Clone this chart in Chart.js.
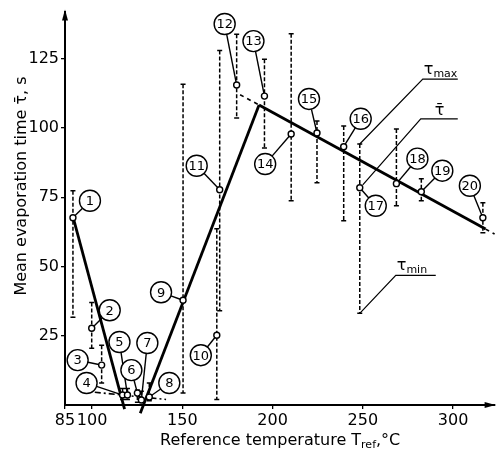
<!DOCTYPE html>
<html>
<head>
<meta charset="utf-8">
<script src="https://cdn.jsdelivr.net/npm/chart.js@4.4.1/dist/chart.umd.min.js"></script>
<style>
  html, body { margin: 0; padding: 0; background: #fff; }
  #evapChart { display: block; }
</style>
</head>
<body>
<canvas id="evapChart" width="500" height="451"></canvas>
<script>
// run numbers, reference temperature and evaporation times
const runLabels = ['1','2','3','4','5','6','7','8','9','10','11','12','13','14','15','16','17','18','19','20'];
const refTemps = [89.4, 99.8, 105.3, 116.9, 119.6, 125.1, 127.3, 131.7, 150.4, 169.1, 170.7, 180.1, 195.5, 210.3, 224.6, 239.4, 248.3, 268.6, 282.4, 316.5];
const meanTau  = [67.6, 27.7, 14.4, 3.6, 3.6, 4.3, 1.8, 2.9, 37.8, 25.2, 77.7, 115.5, 111.5, 97.8, 98.2, 93.2, 78.4, 79.9, 77.0, 67.6];
const maxTau   = [77.3, 37.0, 21.6, 6.0, 6.0, 5.4, 5.0, 7.9, 115.8, 63.6, 128.0, 133.8, 124.8, 134.0, 102.5, 100.7, 94.2, 99.6, 81.7, 73.0];
const minTau   = [31.7, 20.5, 7.9, 2.0, 2.0, 1.0, 1.0, 1.5, 4.3, 2.0, 34.0, 103.6, 92.8, 73.7, 80.2, 66.5, 33.1, 71.9, 73.7, 62.2];

// straight lines drawn through the points: [T, tau] end points
const fitFalling = [[89.4, 68], [118, -1.5]];
const fitRising  = [[126.7, -3], [192.5, 108.3]];
const fitHigh    = [[192.5, 108.3], [318, 63.5]];
const fitHighLeft  = [[182, 112], [192.5, 108.3]];
const fitHighRight = [[318, 63.5], [323, 61.7]];
const fitLow     = [[101.5, 4.6], [141, 2]];

const xTicks = [85, 100, 150, 200, 250, 300];
const yTicks = [25, 50, 75, 100, 125];

// where each numbered circle sits relative to its point (px)
const labelOffsets = [[17,-17],[18,-18],[-24,-5],[-36,-12],[-8,-53],[-6,-23],[6,-57],[20,-14],[-22,-8],[-16,20],
                      [-23,-24],[-12,-61],[-11,-55],[-26,30],[-8,-34],[17,-28],[16,18],[21,-25],[21,-21],[-13,-32]];
const keyRun = 16; // run 17 carries the tau_max / tau / tau_min key

const FONT = '"DejaVu Sans", sans-serif';

function toPoints(pairs) {
    return pairs.map(p => ({ x: p[0], y: p[1] }));
}

function fitLine(pairs, width, dash) {
    return {
        data: toPoints(pairs),
        showLine: true,
        borderColor: '#000',
        borderWidth: width,
        borderDash: dash || [],
        pointRadius: 0,
        clip: false
    };
}

// dashed error bars, drawn under the points
const errorBarPlugin = {
    id: 'errorBars',
    beforeDatasetsDraw(chart) {
        const ctx = chart.ctx;
        const xs = chart.scales.x, ys = chart.scales.y;
        ctx.save();
        ctx.strokeStyle = '#000';
        ctx.lineWidth = 1.5;
        for (let i = 0; i < refTemps.length; i++) {
            const px = xs.getPixelForValue(refTemps[i]);
            const top = ys.getPixelForValue(maxTau[i]);
            const bot = ys.getPixelForValue(minTau[i]);
            ctx.setLineDash([4, 2]);
            ctx.beginPath();
            ctx.moveTo(px, top);
            ctx.lineTo(px, bot);
            ctx.stroke();
            ctx.setLineDash([]);
            ctx.beginPath();
            ctx.moveTo(px - 2.5, top); ctx.lineTo(px + 2.5, top);
            ctx.moveTo(px - 2.5, bot); ctx.lineTo(px + 2.5, bot);
            ctx.stroke();
        }
        ctx.restore();
    }
};

function drawTau(ctx, x, y, sub, bar) {
    ctx.font = '16px ' + FONT;
    ctx.textAlign = 'left';
    ctx.textBaseline = 'alphabetic';
    ctx.fillText(bar ? 'τ\u0304' : 'τ', x, y);
    if (sub) {
        const w = ctx.measureText('τ').width;
        ctx.font = '11px ' + FONT;
        ctx.fillText(sub, x + w, y + 3);
    }
}

// numbered circles, the key for run 17, axis titles and arrows
const annotatePlugin = {
    id: 'annotate',
    afterDatasetsDraw(chart) {
        const ctx = chart.ctx;
        const xs = chart.scales.x, ys = chart.scales.y;
        ctx.save();
        ctx.strokeStyle = '#000';
        ctx.fillStyle = '#000';
        ctx.lineWidth = 1.4;

        const r = 10.5;
        for (let i = 0; i < refTemps.length; i++) {
            const px = xs.getPixelForValue(refTemps[i]);
            const py = ys.getPixelForValue(meanTau[i]);
            const cx = px + labelOffsets[i][0];
            const cy = py + labelOffsets[i][1];
            const dx = px - cx, dy = py - cy;
            const len = Math.sqrt(dx * dx + dy * dy);
            const ux = dx / len, uy = dy / len;
            ctx.beginPath();
            ctx.moveTo(cx + ux * r, cy + uy * r);
            ctx.lineTo(px - ux * 3, py - uy * 3);
            ctx.stroke();
            ctx.beginPath();
            ctx.arc(cx, cy, r, 0, Math.PI * 2);
            ctx.fillStyle = '#fff';
            ctx.fill();
            ctx.stroke();
            ctx.fillStyle = '#000';
            ctx.font = '13px ' + FONT;
            ctx.textAlign = 'center';
            ctx.textBaseline = 'middle';
            ctx.fillText(runLabels[i], cx, cy + 1);
        }

        // key on run 17
        const kx = xs.getPixelForValue(refTemps[keyRun]);
        const kTop = ys.getPixelForValue(maxTau[keyRun]);
        const kMid = ys.getPixelForValue(meanTau[keyRun]);
        const kBot = ys.getPixelForValue(minTau[keyRun]);
        ctx.lineWidth = 1.2;
        ctx.beginPath();
        ctx.moveTo(kx, kTop); ctx.lineTo(kx + 63, kTop - 65); ctx.lineTo(kx + 98, kTop - 65);
        ctx.moveTo(kx + 3, kMid - 3); ctx.lineTo(kx + 61, kMid - 69); ctx.lineTo(kx + 98, kMid - 69);
        ctx.moveTo(kx, kBot); ctx.lineTo(kx + 36, kBot - 38); ctx.lineTo(kx + 76, kBot - 38);
        ctx.stroke();
        drawTau(ctx, kx + 64, kTop - 70, 'max', false);
        drawTau(ctx, kx + 75, kMid - 73, '', true);
        drawTau(ctx, kx + 37, kBot - 43, 'min', false);

        ctx.restore();
    },
    afterDraw(chart) {
        const ctx = chart.ctx;
        const area = chart.chartArea;
        ctx.save();
        ctx.fillStyle = '#000';
        // arrow heads
        ctx.beginPath();
        ctx.moveTo(area.left, area.top - 2);
        ctx.lineTo(area.left - 3, area.top + 9);
        ctx.lineTo(area.left + 3, area.top + 9);
        ctx.closePath();
        ctx.fill();
        ctx.beginPath();
        ctx.moveTo(area.right + 1, area.bottom);
        ctx.lineTo(area.right - 10, area.bottom - 3);
        ctx.lineTo(area.right - 10, area.bottom + 3);
        ctx.closePath();
        ctx.fill();

        // x title with subscript
        ctx.textAlign = 'left';
        ctx.textBaseline = 'alphabetic';
        ctx.font = '16px ' + FONT;
        let tx = 160;
        const base = 445;
        const part1 = 'Reference temperature T';
        ctx.fillText(part1, tx, base);
        tx += ctx.measureText(part1).width;
        ctx.font = '11px ' + FONT;
        ctx.fillText('ref', tx, base + 3);
        tx += ctx.measureText('ref').width;
        ctx.font = '16px ' + FONT;
        ctx.fillText(',°C', tx, base);

        // y title, rotated
        ctx.translate(26, 186);
        ctx.rotate(-Math.PI / 2);
        ctx.textAlign = 'center';
        ctx.fillText('Mean evaporation time τ\u0304, s', 0, 0);
        ctx.restore();
    }
};

function buildChart() {
    const ctx = document.getElementById('evapChart').getContext('2d');
    new Chart(ctx, {
        type: 'scatter',
        data: {
            datasets: [
                {
                    data: refTemps.map((t, i) => ({ x: t, y: meanTau[i] })),
                    pointRadius: 3,
                    pointBackgroundColor: '#fff',
                    pointBorderColor: '#000',
                    pointBorderWidth: 1.4,
                    showLine: false,
                    clip: false
                },
                fitLine(fitFalling, 2.8),
                fitLine(fitRising, 2.8),
                fitLine(fitHigh, 2.8),
                fitLine(fitHighLeft, 1.6, [4, 4]),
                fitLine(fitHighRight, 1.6, [4, 4]),
                fitLine(fitLow, 1.6, [6, 3, 2, 3])
            ]
        },
        options: {
            responsive: false,
            animation: false,
            layout: { padding: { top: 11, right: 2, left: 0, bottom: 0 } },
            plugins: { legend: { display: false }, tooltip: { enabled: false } },
            scales: {
                x: {
                    type: 'linear',
                    min: 85,
                    max: 323,
                    afterBuildTicks: s => { s.ticks = xTicks.map(v => ({ value: v })); },
                    afterFit: s => { s.height = 46; },
                    grid: { drawOnChartArea: false, color: '#000', tickLength: 4, lineWidth: 1.3 },
                    border: { color: '#000', width: 2 },
                    ticks: { color: '#000', font: { family: FONT, size: 16 }, padding: 2, maxRotation: 0 }
                },
                y: {
                    min: 0,
                    max: 142,
                    afterBuildTicks: s => { s.ticks = yTicks.map(v => ({ value: v })); },
                    afterFit: s => { s.width = 65; },
                    grid: { drawOnChartArea: false, color: '#000', tickLength: 4, lineWidth: 1.3 },
                    border: { color: '#000', width: 2 },
                    ticks: { color: '#000', font: { family: FONT, size: 16 }, padding: 2 }
                }
            }
        },
        plugins: [errorBarPlugin, annotatePlugin]
    });
}

document.addEventListener('DOMContentLoaded', function () {
    buildChart();
});
</script>
</body>
</html>
